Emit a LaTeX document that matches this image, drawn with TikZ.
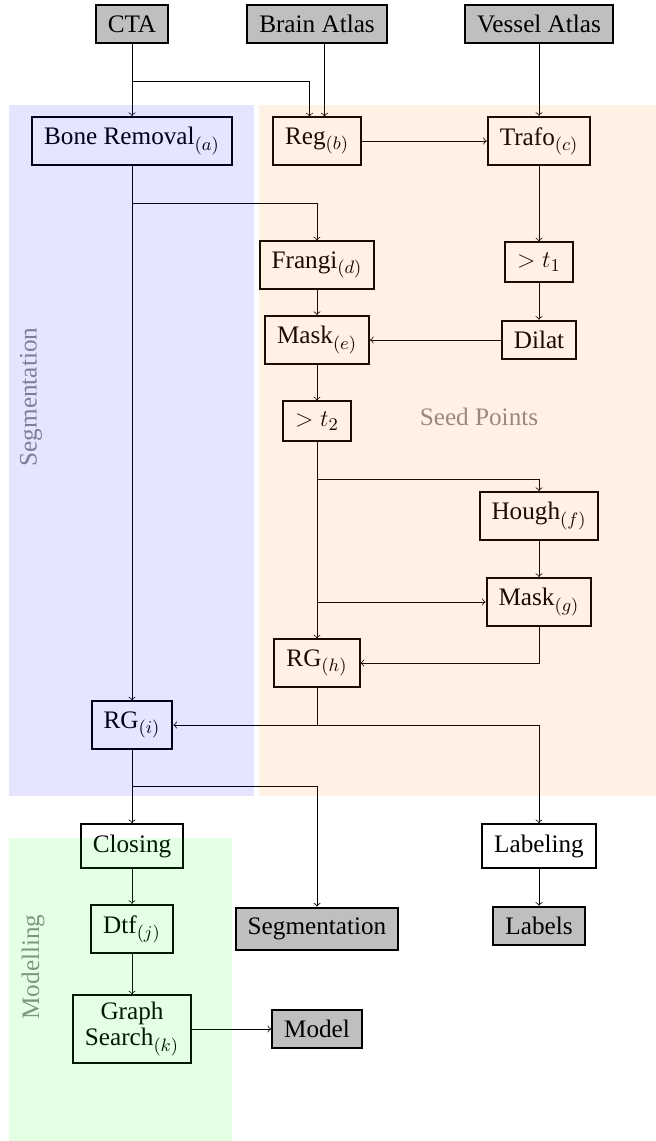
\documentclass[tikz,border=0pt]{standalone}
\usepackage[no-math]{fontspec}
\setmainfont{Liberation Serif}
\usetikzlibrary{positioning}

\begin{document}
\begin{tikzpicture}[x=0.5pt, y=-0.5pt,
    font=\fontsize{12.6}{15}\selectfont,
    box/.style={draw, line width=1pt, fill=white, inner xsep=6pt, inner ysep=5.2pt},
    iobox/.style={box, fill=black!25},
    region/.style={fill opacity=0.1, draw=none},
    regionlabel/.style={text=black!45}]
    \useasboundingbox (0,0) rectangle (656,1141);

    % Inputs
    \node[iobox] (cta) at (132,24) {CTA};
    \node[iobox] (brain) at (317,24) {Brain Atlas};
    \node[iobox] (vessel) at (539,24) {Vessel Atlas};

    % Registration
    \node[box] (bone) at (132,141) {Bone Removal$_{(a)}$};
    \node[box] (reg) at (317,141) {Reg$_{(b)}$};
    \node[box] (trafo) at (539,141) {Trafo$_{(c)}$};

    % Seed points
    \node[box] (frangi) at (317,265) {Frangi$_{(d)}$};
    \node[box] (thra) at (539,262) {$>t_1$};
    \node[box] (maske) at (317,340) {Mask$_{(e)}$};
    \node[box] (dilat) at (539,340) {Dilat};
    \node[box] (thrb) at (317,421) {$>t_2$};
    \node[box] (hough) at (539,516) {Hough$_{(f)}$};
    \node[box] (maskg) at (539,602) {Mask$_{(g)}$};
    \node[box] (rgh) at (317,663) {RG$_{(h)}$};
    \node[box] (rgi) at (132,725) {RG$_{(i)}$};

    % Modelling and outputs
    \node[box] (closing) at (132,846) {Closing};
    \node[box] (labeling) at (539,846) {Labeling};
    \node[box] (dtf) at (132,929) {Dtf$_{(j)}$};
    \node[iobox] (segout) at (317,929) {Segmentation};
    \node[iobox] (labels) at (539,926) {Labels};
    \node[box, align=center, inner ysep=3.5pt] (graph) at (132,1029) {Graph\\[-2pt]Search$_{(k)}$};
    \node[iobox] (model) at (317,1029) {Model};

    % Branch points
    \coordinate (ctasplit) at (132,81);
    \coordinate (bonesplit) at (132,203);
    \coordinate (thrsplita) at (317,479);
    \coordinate (thrsplitb) at (317,602);
    \coordinate (rghsplit) at (317,725);
    \coordinate (rgisplit) at (132,786);

    % Connectors
    \draw[->] (cta) -- (bone);
    \draw[->] (ctasplit) -| ([xshift=-3.75pt]reg.north);
    \draw[->] ([xshift=3.75pt]brain.south) -- ([xshift=3.75pt]reg.north);
    \draw[->] (vessel) -- (trafo);
    \draw[->] (reg) -- (trafo);
    \draw[->] (trafo) -- (thra);
    \draw[->] (thra) -- (dilat);
    \draw[->] (dilat) -- (maske);
    \draw[->] (bone) -- (rgi);
    \draw[->] (bonesplit) -| (frangi);
    \draw[->] (frangi) -- (maske);
    \draw[->] (maske) -- (thrb);
    \draw[->] (thrb) -- (rgh);
    \draw[->] (thrsplita) -| (hough);
    \draw[->] (thrsplitb) -- (maskg);
    \draw[->] (hough) -- (maskg);
    \draw[->] (maskg) |- (rgh);
    \draw[->] (rgh) -- (rghsplit) -- (rgi);
    \draw[->] (rghsplit) -| (labeling);
    \draw[->] (rgi) -- (closing);
    \draw[->] (rgisplit) -| (segout);
    \draw[->] (closing) -- (dtf);
    \draw[->] (dtf) -- (graph);
    \draw[->] (graph) -- (model);
    \draw[->] (labeling) -- (labels);

    % Regions
    \node[regionlabel, rotate=90] (seglabel) at (31,397) {Segmentation};
    \node[regionlabel] (seedlabel) at (479,417) {Seed Points};
    \node[regionlabel, rotate=90] (modlabel) at (33,967) {Modelling};
    \fill[region, blue] (9,105) rectangle (254,796);
    \fill[region, orange] (259,105) rectangle (656,796);
    \fill[region, green] (9,838) rectangle (232,1141);
\end{tikzpicture}
\end{document}
